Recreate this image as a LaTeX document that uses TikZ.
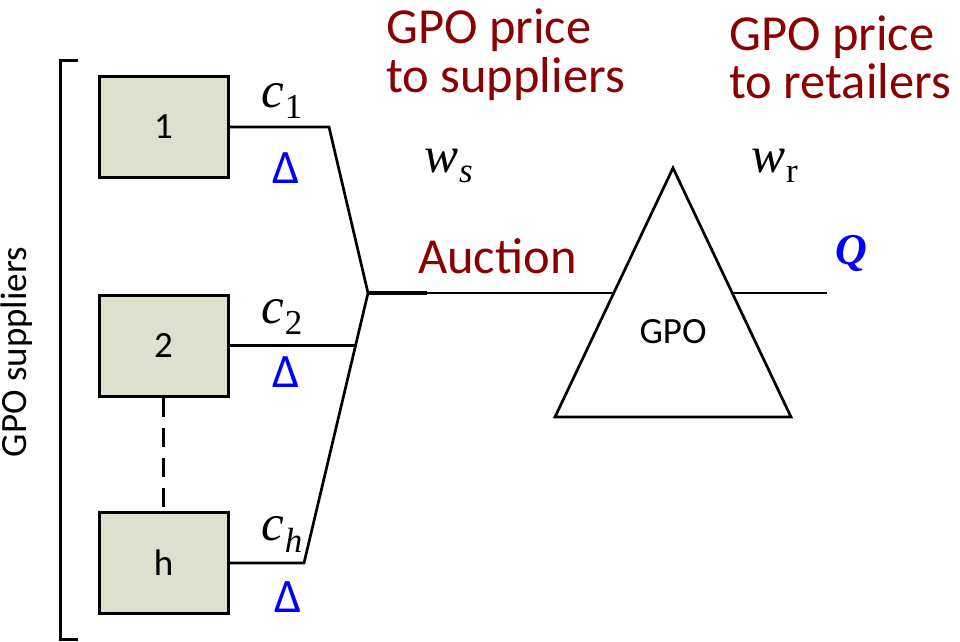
\documentclass[tikz,border=0pt]{standalone}
\usepackage{fontspec}
\setmainfont{Carlito}
\newfontfamily\tnr{Liberation Serif}
\definecolor{boxfill}{RGB}{221,224,204}
\definecolor{gpored}{RGB}{139,0,0}
\definecolor{qblue}{RGB}{0,0,255}
\tikzset{
  supplier/.style={draw, line width=3pt, fill=boxfill, minimum width=129pt,
    minimum height=101pt, inner sep=0pt, font=\fontsize{37}{37}\selectfont},
  wire/.style={line width=2.7pt},
  redlabel/.style={anchor=base west, inner sep=0pt, text=gpored,
    font=\fontsize{50.5}{50.5}\selectfont},
  costlabel/.style={anchor=base west, inner sep=0pt,
    font=\tnr\fontsize{51}{51}\selectfont\itshape},
  deltalabel/.style={anchor=base, inner sep=0pt, text=qblue,
    font=\fontsize{48}{48}\selectfont},
}
\newcommand{\lowsub}[2][11pt]{\kern1pt\raisebox{-#1}{\fontsize{35}{35}\selectfont #2}}
\begin{document}
\begin{tikzpicture}[x=1pt,y=-1pt]
\useasboundingbox (0,0) rectangle (960,641);

% bracket grouping the suppliers
\coordinate (brt) at (78,60);
\coordinate (brb) at (78,639);
\draw[line width=3pt] (brt) -- (60,60) -- (60,639) -- (brb);
\node[rotate=90, anchor=base, inner sep=0pt, font=\fontsize{37}{37}\selectfont]
  (sup) at (27,352) {GPO suppliers};

% suppliers
\node[supplier] (b1) at (163.5,127) {1};
\node[supplier] (b2) at (163.5,345.5) {2};
\node[supplier] (bh) at (163.5,563) {h};
\draw[line width=3pt, dash pattern=on 19pt off 11pt] (b2.south) -- (bh.north);

% bids gathered into the auction
\coordinate (k1) at (329,127);
\coordinate (k2) at (355,345.5);
\coordinate (kh) at (304,563);
\coordinate (J) at (368,293);
\coordinate (Jt) at (427,293);
\draw[wire] (b1.east) -- (k1) -- (J);
\draw[wire] (bh.east) -- (kh) -- (J);
\draw[wire] (b2.east) -- (k2);
\draw[line width=4.2pt] (J) -- (Jt);

% GPO triangle
\coordinate (tA) at (673,168);
\coordinate (tL) at (555,417);
\coordinate (tR) at (791,417);
\coordinate (eL) at (613.8,293);
\coordinate (eR) at (732.2,293);
\coordinate (qend) at (827,293);
\draw[wire, line join=miter] (tA) -- (tL) -- (tR) -- cycle;
\node[font=\fontsize{37}{37}\selectfont, inner sep=0pt] (gpo) at (673,332) {GPO};
\draw[wire] (Jt) -- (eL);
\draw[wire] (eR) -- (qend);

% cost labels and deltas
\node[costlabel] (c1) at (261,107) {c\lowsub{\upshape 1}};
\node[costlabel] (c2) at (261,323) {c\lowsub{\upshape 2}};
\node[costlabel] (ch) at (261,540) {c\lowsub[12pt]{h}};
\node[deltalabel] (d1) at (286,183) {Δ};
\node[deltalabel] (d2) at (286,387) {Δ};
\node[deltalabel] (dh) at (288,612) {Δ};

% prices
\node[costlabel] (ws) at (424,172) {w\lowsub[10pt]{s}};
\node[costlabel] (wr) at (751,172) {w\lowsub[10pt]{\upshape r}};
\node[anchor=base west, inner sep=0pt, text=qblue,
  font=\tnr\fontsize{44}{44}\selectfont\bfseries\itshape] (q) at (835,264) {Q};

% headings
\node[redlabel] (ps1) at (386,43) {GPO price};
\node[redlabel] (ps2) at (386,92) {to suppliers};
\node[redlabel] (pr1) at (729,50) {GPO price};
\node[redlabel] (pr2) at (729,98) {to retailers};
\node[redlabel] (auc) at (418,273) {Auction};
\end{tikzpicture}
\end{document}
